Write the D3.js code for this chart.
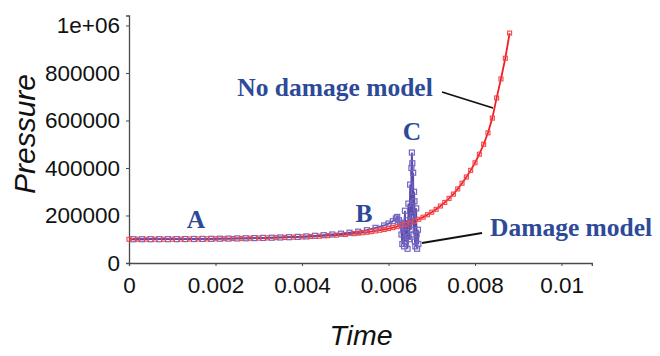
<!DOCTYPE html>
<html><head><meta charset="utf-8">
<script src="https://cdn.jsdelivr.net/npm/d3@7"></script>
<style>body{margin:0;background:#fff}svg{display:block}</style>
</head><body>
<svg id="chart" width="660" height="356"></svg>
<script>
// ---- data (Pressure vs Time) ----
const noDamageTime = [0,0.0002,0.0004,0.0006,0.0008,0.0010,0.0012,0.0014,0.0016,0.0018,0.0020,0.0022,0.0024,0.0026,0.0028,0.0030,0.0032,0.0034,0.0036,0.0038,0.0040,0.0042,0.0044,0.0046,0.0048,0.0050,0.0052,0.0053,0.0054,0.0055,0.0056,0.0057,0.0058,0.0059,0.0060,0.0061,0.0062,0.0063,0.0064,0.0065,0.0066,0.0067,0.0068,0.0069,0.0070,0.0071,0.0072,0.0073,0.0074,0.0075,0.0076,0.0077,0.0078,0.0079,0.0080,0.0081,0.0082,0.0083,0.0084,0.0085,0.0086,0.0087,0.0088];
const noDamagePressure = [100000,100000,100100,100100,100200,100400,100600,100900,101200,101600,102000,102500,103000,103600,104300,105000,105800,106700,107700,108800,110000,111500,113000,115000,117500,120000,123500,125500,127500,129500,132000,135000,138000,141000,145000,149000,153000,158000,163000,169000,176000,184000,193000,203000,214000,226000,240000,255000,272000,290000,312000,336000,362000,390000,422000,458000,500000,548000,610000,695000,775000,862000,968000];

const damageTime = [0.0001,0.0003,0.0005,0.0007,0.0009,0.0011,0.0013,0.0015,0.0017,0.0019,0.0021,0.0023,0.0025,0.0027,0.0029,0.0031,0.0033,0.0035,0.0037,0.0039,0.0041,0.0043,0.0045,0.0047,0.0049,0.0051,0.0053,0.0055,0.0057,0.0059,0.0060,0.0061,0.00617,0.0062,0.00624,0.00627,0.00628,0.00630,0.00632,0.00634,0.00636,0.00638,0.00640,0.00641,0.00642,0.00644,0.00645,0.00646,0.00648,0.00650,0.00651,0.00652,0.00653,0.00654,0.00655,0.00656,0.00657,0.00658,0.00659,0.00660,0.00661,0.00662,0.00664,0.00665,0.00666,0.00668,0.00669];
const damagePressure = [100000,100000,100100,100200,100300,100500,100800,101100,101400,101800,102300,102800,103400,104000,104800,105600,106500,107500,108600,110000,112000,114500,117000,120000,123500,127500,132000,138000,148000,158000,166000,176000,188000,194000,180000,165000,170000,120000,80000,150000,70000,220000,90000,130000,180000,60000,110000,250000,100000,330000,180000,140000,400000,465000,420000,200000,380000,120000,300000,260000,90000,70000,230000,120000,60000,140000,80000];

const xTicks = [0,0.002,0.004,0.006,0.008,0.01];
const xTickLabels = ["0","0.002","0.004","0.006","0.008","0.01"];
const yTicks = [0,200000,400000,600000,800000,1000000];
const yTickLabels = ["0","200000","400000","600000","800000","1e+06"];

const annotations = [
  {text:"No damage model", x:335, y:96, anchor:"middle"},
  {text:"Damage model", x:490, y:236, anchor:"start"},
  {text:"A", x:196, y:228, anchor:"middle"},
  {text:"B", x:364, y:222, anchor:"middle"},
  {text:"C", x:412, y:140, anchor:"middle"}
];

// ---- drawing ----
const svg = d3.select("#chart");
const x = d3.scaleLinear().domain([0, 0.0107]).range([129, 591.8]);
const y = d3.scaleLinear().domain([0, 1042000]).range([263, 15.5]);

const axisColor = "#4a4a4a";
const xAxis = d3.axisBottom(x).tickValues(xTicks).tickFormat((d,i)=>xTickLabels[i]).tickSize(3).tickPadding(11.5);
const yAxis = d3.axisLeft(y).tickValues(yTicks).tickFormat((d,i)=>yTickLabels[i]).tickSize(3).tickPadding(6);

const gx = svg.append("g").attr("transform","translate(0,263)").call(xAxis);
const gy = svg.append("g").attr("transform","translate(129,0)").call(yAxis);
[gx,gy].forEach(g=>{
  g.select(".domain").attr("stroke",axisColor).attr("stroke-width",1.3);
  g.selectAll(".tick line").attr("stroke",axisColor);
  g.selectAll(".tick text").attr("fill","#111").style("font-family","'Liberation Sans', Arial, sans-serif").style("font-size","22.5px");
});

svg.append("text").attr("transform","translate(35,134) rotate(-90)").attr("text-anchor","middle")
  .style("font-family","'Liberation Sans', Arial, sans-serif").style("font-style","italic").style("font-size","30px").attr("fill","#111").text("Pressure");
svg.append("text").attr("x",361).attr("y",345).attr("text-anchor","middle")
  .style("font-family","'Liberation Sans', Arial, sans-serif").style("font-style","italic").style("font-size","28.5px").attr("fill","#111").text("Time");

const red = "#f41c22", blue = "#5a4cab", blueMark = "#7566c0";
const redData = noDamageTime.map((t,i)=>[t,noDamagePressure[i]]);
const blueData = damageTime.map((t,i)=>[t,damagePressure[i]]);
const line = d3.line().x(d=>x(d[0])).y(d=>y(d[1]));

svg.append("path").datum(redData).attr("d",line).attr("fill","none").attr("stroke",red).attr("stroke-width",1.8);
svg.append("path").datum(blueData).attr("d",line).attr("fill","none").attr("stroke",blue).attr("stroke-width",1.8);
svg.append("g").selectAll("rect").data(blueData).join("rect")
  .attr("x",d=>x(d[0])-2.5).attr("y",d=>y(d[1])-2.5).attr("width",5).attr("height",5)
  .attr("fill","none").attr("stroke",blueMark).attr("stroke-width",1.2);
svg.append("g").selectAll("rect").data(redData).join("rect")
  .attr("x",d=>x(d[0])-2).attr("y",d=>y(d[1])-2).attr("width",4).attr("height",4)
  .attr("fill","none").attr("stroke","#f0474c").attr("stroke-width",1.1);

// leader lines
svg.append("line").attr("x1",442).attr("y1",92).attr("x2",493).attr("y2",108).attr("stroke","#111").attr("stroke-width",1.8);
svg.append("line").attr("x1",422).attr("y1",243).attr("x2",482).attr("y2",233).attr("stroke","#111").attr("stroke-width",1.8);

svg.append("g").selectAll("text").data(annotations).join("text")
  .attr("x",d=>d.x).attr("y",d=>d.y).attr("text-anchor",d=>d.anchor)
  .style("font-family","'Liberation Serif', 'DejaVu Serif', serif").style("font-weight","bold").style("font-size","25.5px")
  .attr("fill","#2d4a98").text(d=>d.text);
</script>
</body></html>
